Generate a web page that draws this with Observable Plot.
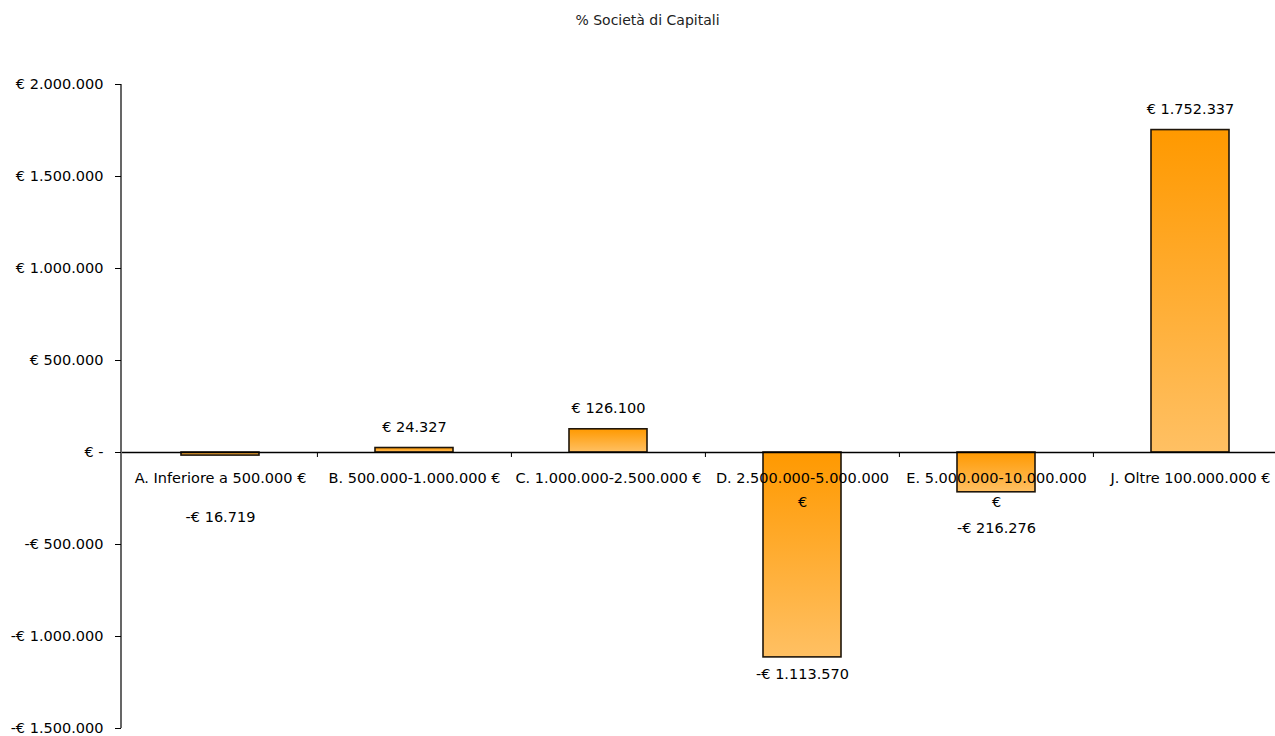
<!DOCTYPE html>
<html><head><meta charset="utf-8">
<script src="https://cdn.jsdelivr.net/npm/d3@7"></script>
<script src="https://cdn.jsdelivr.net/npm/@observablehq/plot@0.6"></script>
<style>
body{margin:0;background:#fff;font-family:"DejaVu Sans",sans-serif;overflow:hidden;width:1275px;}
#title{height:40px;line-height:40px;text-align:center;font-size:14px;color:#222;padding-left:20px;width:1255px;}
#chart{width:1275px;overflow:hidden;}
#chart svg{max-width:none !important;height:696px !important;width:1287px !important;}
</style></head><body>
<div id="title">% Società di Capitali</div>
<div id="chart"></div>
<script>
const categories = ["A. Inferiore a 500.000 €", "B. 500.000-1.000.000 €", "C. 1.000.000-2.500.000 €", "D. 2.500.000-5.000.000 €", "E. 5.000.000-10.000.000 €", "J. Oltre 100.000.000 €"];
const xLabels = ["A. Inferiore a 500.000 €", "B. 500.000-1.000.000 €", "C. 1.000.000-2.500.000 €", "D. 2.500.000-5.000.000\n€", "E. 5.000.000-10.000.000\n€", "J. Oltre 100.000.000 €"];
const values = [-16719, 24327, 126100, -1113570, -216276, 1752337];
const valueLabels = ["-€ 16.719", "€ 24.327", "€ 126.100", "-€ 1.113.570", "-€ 216.276", "€ 1.752.337"];
const yTicks = [2000000, 1500000, 1000000, 500000, 0, -500000, -1000000, -1500000];
const yTickLabels = ["€ 2.000.000", "€ 1.500.000", "€ 1.000.000", "€ 500.000", "€ -", "-€ 500.000", "-€ 1.000.000", "-€ 1.500.000"];

const FS = 14.5;
const W = 1287, H = 696, mT = 44, mB = 8, mL = 122, mR = 0;
const yMin = -1500000, yMax = 2000000;
const upp = (yMax - yMin) / (H - mT - mB);
const step = (W - mL - mR) / categories.length;

const rows = categories.map((c, i) => {
  const v = values[i];
  const lines = xLabels[i].split("\n").length;
  let ly;
  if (v >= 0) {
    ly = v + 21 * upp;
  } else {
    const defPx = -v / upp + 17;
    const catBottom = 25 + (lines - 1) * 24;
    const px = defPx < catBottom + 20 ? catBottom + 40 - (lines - 1) * 13 : defPx;
    ly = -px * upp;
  }
  return {cat: c, value: v, xl: xLabels[i], vl: valueLabels[i], ly};
});

const defsMark = () => {
  const g = d3.create("svg:defs");
  const lg = g.append("linearGradient").attr("id", "barGrad").attr("x1", 0).attr("y1", 0).attr("x2", 0).attr("y2", 1);
  lg.append("stop").attr("offset", "0%").attr("stop-color", "#FF9900");
  lg.append("stop").attr("offset", "100%").attr("stop-color", "#FFC063");
  return g.node();
};
const yAxisLine = (idx, scales, vals, dims) => {
  return d3.create("svg:line")
    .attr("x1", dims.marginLeft - 1).attr("x2", dims.marginLeft - 1)
    .attr("y1", dims.marginTop).attr("y2", dims.height - dims.marginBottom)
    .attr("stroke", "#000").attr("stroke-width", 1.2).node();
};

const plot = Plot.plot({
  width: W, height: H,
  marginTop: mT, marginBottom: mB, marginLeft: mL, marginRight: mR,
  style: {fontFamily: "DejaVu Sans, sans-serif", fontSize: FS + "px", color: "#000", background: "#fff", maxWidth: "none"},
  x: {domain: categories, paddingInner: 0.6, paddingOuter: 0.3, axis: null},
  y: {domain: [yMin, yMax], axis: null},
  marks: [
    defsMark,
    Plot.barY(rows, {x: "cat", y: "value", fill: "url(#barGrad)", stroke: "#1f160b", strokeWidth: 1.6}),
    Plot.ruleY([0], {stroke: "#000", strokeWidth: 1.4}),
    Plot.ruleX(categories.slice(1), {x: d => d, dx: -step / 2, y1: 0, y2: -5 * upp, stroke: "#000", strokeWidth: 1}),
    yAxisLine,
    Plot.axisY(yTicks, {tickFormat: d => yTickLabels[yTicks.indexOf(d)], tickSize: 6, tickPadding: 12, dx: -1, label: null, fontSize: FS}),
    Plot.text(rows, {x: "cat", y: 0, text: "xl", dy: 13, lineAnchor: "top", lineHeight: 24 / FS, fontSize: FS}),
    Plot.text(rows, {x: "cat", y: "ly", text: "vl", lineAnchor: "middle", fontSize: FS})
  ]
});
document.getElementById("chart").appendChild(plot);
</script>
</body></html>
